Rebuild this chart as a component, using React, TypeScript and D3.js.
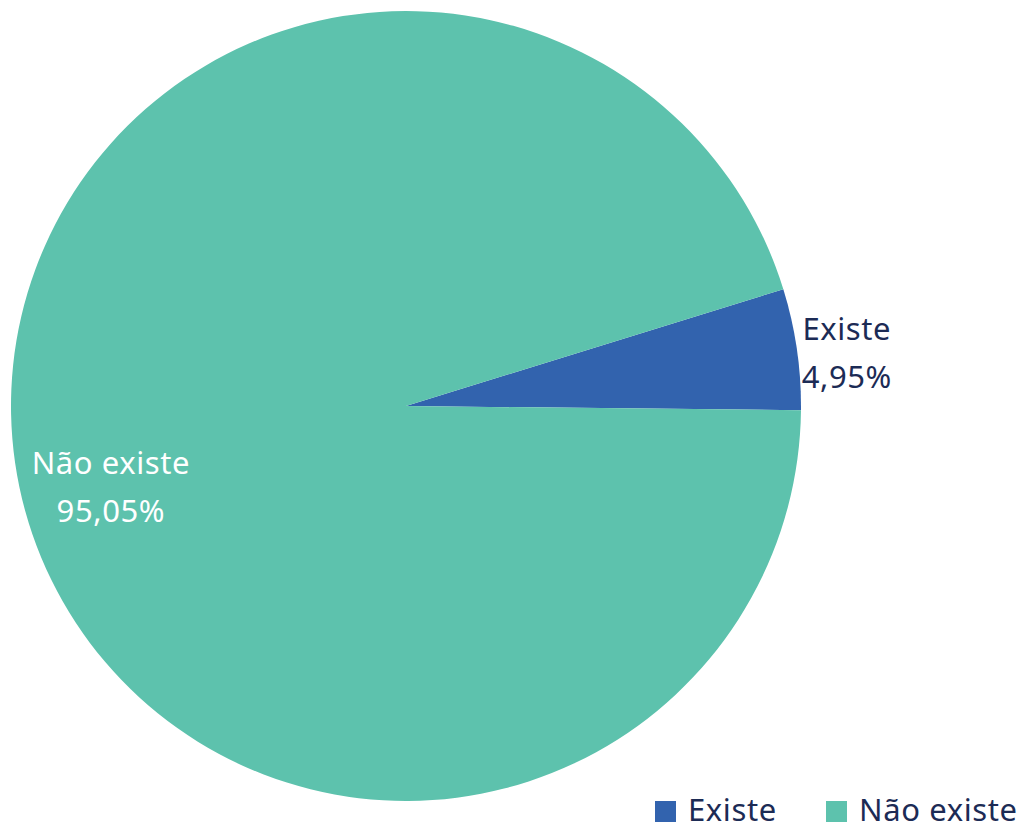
import React from "react";
import * as d3 from "d3";

const categories = ["Existe", "Não existe"];
const values = [4.95, 95.05];
const labels = ["4,95%", "95,05%"];
const colors = ["#3263ae", "#5dc2ad"];

export default function App() {
  const width = 1026;
  const height = 825;
  const cx = 406;
  const cy = 406;
  const r = 395;

  const startDeg = 72.8;
  const pie = d3
    .pie<number>()
    .sort(null)
    .startAngle((startDeg * Math.PI) / 180)
    .endAngle((startDeg * Math.PI) / 180 + 2 * Math.PI);
  const arcs = pie(values);
  const arc = d3.arc<d3.PieArcDatum<number>>().innerRadius(0).outerRadius(r);

  // label radius: small slice outside, big slice inside
  const labelK = [1.12, 0.755];
  const labelDx = [3, 0];
  const labelDy = [-2, 25];

  const font = "'Noto Sans', sans-serif";
  const fs = 31;

  return (
    <svg
      width={width}
      height={height}
      style={{ position: "absolute", left: 0, top: 0, background: "#fff" }}
    >
      <g transform={`translate(${cx},${cy})`}>
        {arcs.map((a, i) => (
          <path key={i} d={arc(a) || ""} fill={colors[i]} />
        ))}
        {arcs.map((a, i) => {
          const la = d3
            .arc<d3.PieArcDatum<number>>()
            .innerRadius(r * labelK[i])
            .outerRadius(r * labelK[i]);
          const [cx0, cy0] = la.centroid(a);
          const x = cx0 + labelDx[i];
          const y = cy0 + labelDy[i];
          const fill = i === 0 ? "#1c2b55" : "#ffffff";
          return (
            <text
              key={"l" + i}
              x={x}
              y={y}
              textAnchor="middle"
              fontFamily={font}
              fontSize={fs}
              letterSpacing={0.6}
              fill={fill}
            >
              <tspan x={x} dy={0}>
                {categories[i]}
              </tspan>
              <tspan x={x} dy={48}>
                {labels[i]}
              </tspan>
            </text>
          );
        })}
      </g>
      <g>
        {categories.map((c, i) => {
          const lx = i === 0 ? 655 : 826;
          return (
            <g key={c} transform={`translate(${lx},801)`}>
              <rect width={21} height={21} fill={colors[i]} />
              <text
                x={33}
                y={20}
                fontFamily={font}
                fontSize={fs}
                letterSpacing={0.6}
                fill="#1c2b55"
              >
                {c}
              </text>
            </g>
          );
        })}
      </g>
    </svg>
  );
}
